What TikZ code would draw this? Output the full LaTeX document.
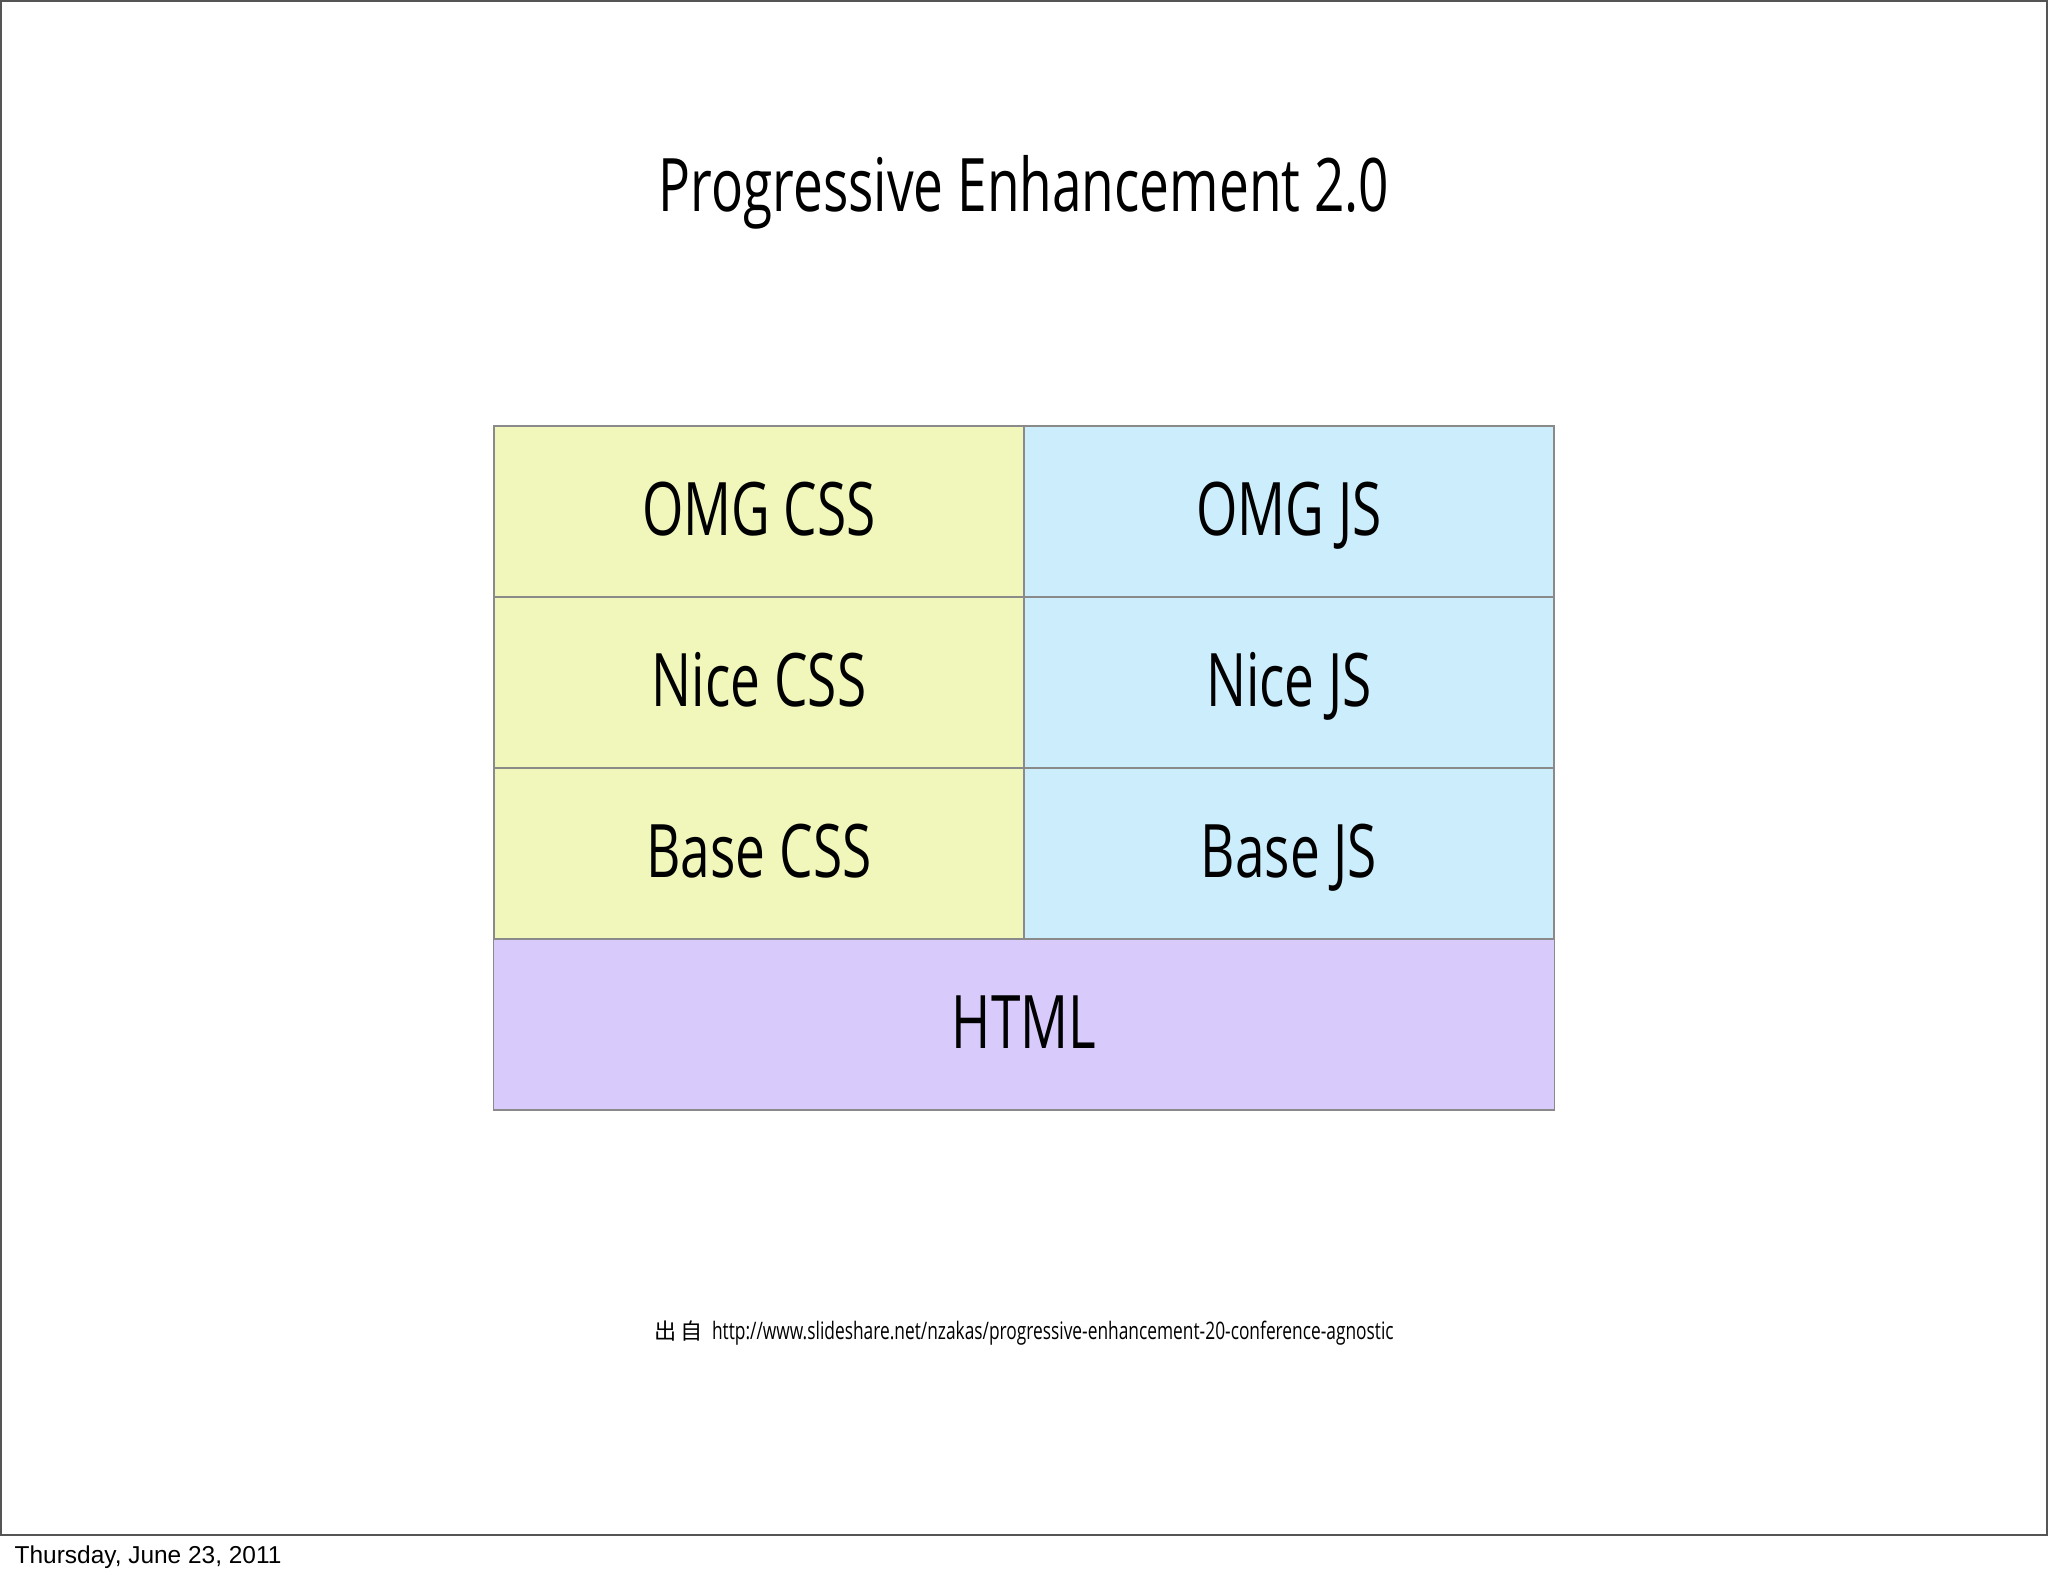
\documentclass[tikz,border=0pt]{standalone}
\usepackage{fontspec}
\setmainfont{Liberation Sans}
\newfontfamily\condfont[FakeStretch=0.72]{Open Sans}
\newfontfamily\cjkfont{Noto Sans CJK SC}
\definecolor{cssyellow}{HTML}{F1F6BB}
\definecolor{jsblue}{HTML}{CCEEFC}
\definecolor{htmlpurple}{HTML}{D9CAFC}
\definecolor{cellline}{HTML}{8A8A8A}
\definecolor{framegray}{HTML}{555555}
\tikzset{
  cell/.style={draw=cellline, line width=0.4pt, inner sep=0pt, outer sep=0pt,
    text height=13.6pt, text depth=0pt,
    minimum width=5.3cm, minimum height=1.71cm, font=\condfont\fontsize{21}{24}\selectfont},
  csscell/.style={cell, fill=cssyellow},
  jscell/.style={cell, fill=jsblue},
  htmlcell/.style={cell, fill=htmlpurple, minimum width=10.6cm},
}
\begin{document}
\begin{tikzpicture}[x=0.01cm, y=-0.01cm]
\useasboundingbox (0,0) rectangle (2048,1576);
\draw[framegray, line width=0.6pt] (1,1) rectangle (2047,1535);
\node[font=\condfont\fontsize{21}{24}\selectfont, anchor=base] (title) at (1024,212) {Progressive Enhancement 2.0};
\node[csscell] (omgcss) at (759,511.5) {OMG CSS};
\node[jscell] (omgjs) at (1289,511.5) {OMG JS};
\node[csscell] (nicecss) at (759,682.5) {Nice CSS};
\node[jscell] (nicejs) at (1289,682.5) {Nice JS};
\node[csscell] (basecss) at (759,853.5) {Base CSS};
\node[jscell] (basejs) at (1289,853.5) {Base JS};
\node[htmlcell] (html) at (1024,1024.5) {HTML};
\node[anchor=base, inner sep=0pt] (cite) at (1024,1339) {{\cjkfont\fontsize{6.3}{8}\selectfont 出\,自}\ {\condfont\fontsize{6.85}{9}\selectfont http://www.slideshare.net/nzakas/progressive-enhancement-20-conference-agnostic}};
\node[anchor=base west, inner sep=0pt, font=\fontsize{6.95}{8.5}\selectfont] (date) at (14,1563) {Thursday, June 23, 2011};
\end{tikzpicture}
\end{document}
